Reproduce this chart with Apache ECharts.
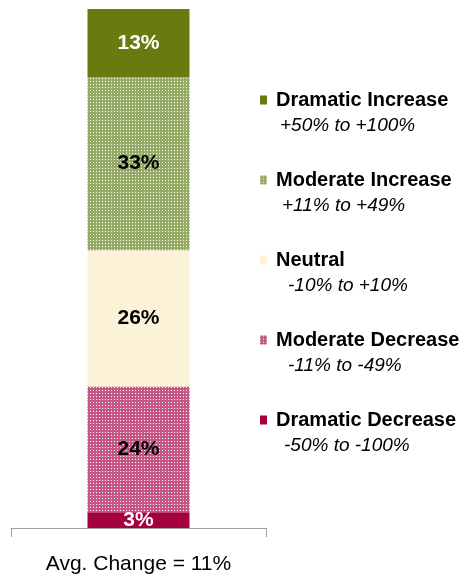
<!DOCTYPE html>
<html>
<head>
<meta charset="utf-8">
<script src="https://cdn.jsdelivr.net/npm/echarts@6/dist/echarts.min.js"></script>
<style>
  html, body { margin: 0; padding: 0; background: #fff; }
  #chart { width: 467px; height: 577px; }
</style>
</head>
<body>
<div id="chart"></div>
<script>
// data, bottom segment first
const categories = ['Avg. Change = 11%']
const seriesNames = ['Dramatic Decrease', 'Moderate Decrease', 'Neutral', 'Moderate Increase', 'Dramatic Increase']
const seriesValues = [3, 24, 26, 33, 13]
const ranges = ['-50% to -100%', '-11% to -49%', '-10% to +10%', '+11% to +49%', '+50% to +100%']
const legendOrder = ['Dramatic Increase', 'Moderate Increase', 'Neutral', 'Moderate Decrease', 'Dramatic Decrease']

// small checker tile for the "moderate" fills
function checker(base) {
  const c = document.createElement('canvas')
  c.width = 3
  c.height = 3
  const ctx = c.getContext('2d')
  ctx.fillStyle = base
  ctx.fillRect(0, 0, 3, 3)
  ctx.fillStyle = '#ffffff'
  ctx.fillRect(0, 0, 1, 1)
  return { image: c, repeat: 'repeat' }
}

const colors = [
  '#a5003e',
  checker('#c65686'),
  '#fcf2d8',
  checker('#95aa64'),
  '#6b7a10'
]
const labelColors = ['#fff', '#000', '#000', '#000', '#fff']
// indent of the range line under each legend name
const indent = { 'Dramatic Increase': 'a', 'Moderate Increase': 'b', 'Neutral': 'c', 'Moderate Decrease': 'c', 'Dramatic Decrease': 'd' }
const rangeStyle = (pad) => ({ lineHeight: 26, fontSize: 19, fontStyle: 'italic', padding: [0, 0, 0, pad] })

const series = seriesNames.map((name, i) => ({
  name: name,
  type: 'bar',
  stack: 'total',
  barWidth: '40%',
  data: [seriesValues[i]],
  itemStyle: { color: colors[i] },
  label: {
    show: true,
    position: 'inside',
    formatter: '{c}%',
    color: labelColors[i],
    fontFamily: 'Liberation Sans, Arial, sans-serif',
    fontWeight: 'bold',
    fontSize: 21
  }
}))

const chart = echarts.init(document.getElementById('chart'), null, { renderer: 'canvas' })
chart.setOption({
  animation: false,
  grid: { left: 11, right: 201, top: 9, bottom: 49 },
  legend: {
    orient: 'vertical',
    left: 255,
    top: 64,
    itemWidth: 7,
    itemHeight: 9,
    itemGap: 13.5,
    icon: 'rect',
    data: legendOrder,
    selectedMode: false,
    formatter: function (name) {
      const r = ranges[seriesNames.indexOf(name)]
      return '{s| }\n{n|' + name + '}\n{' + indent[name] + '|' + r + '}'
    },
    textStyle: {
      fontFamily: 'Liberation Sans, Arial, sans-serif',
      color: '#000',
      rich: {
        s: { lineHeight: 26, fontSize: 10 },
        n: { lineHeight: 26, fontSize: 20, fontWeight: 'bold', padding: [0, 0, 0, 4] },
        a: rangeStyle(8),
        b: rangeStyle(10),
        c: rangeStyle(16),
        d: rangeStyle(12)
      }
    }
  },
  xAxis: {
    type: 'category',
    data: categories,
    axisLine: { lineStyle: { color: '#a0a0a0', width: 1 } },
    axisTick: { show: true, length: 9, lineStyle: { color: '#a0a0a0' } },
    axisLabel: {
      margin: 26,
      fontFamily: 'Liberation Sans, Arial, sans-serif',
      fontSize: 21,
      color: '#000'
    },
    z: 10
  },
  yAxis: {
    type: 'value',
    min: 0,
    max: 99,
    show: false
  },
  series: series
})
</script>
</body>
</html>
